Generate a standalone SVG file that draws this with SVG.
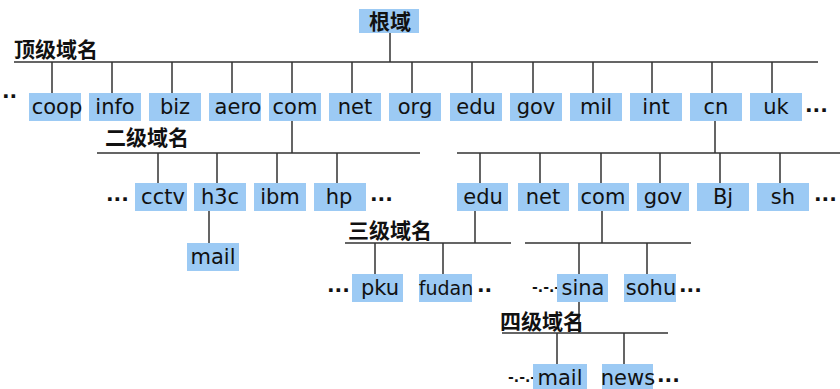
<svg xmlns="http://www.w3.org/2000/svg" width="840" height="389" viewBox="0 0 840 389">
<style>
.b{fill:#9ccaf4}
.t{font-family:"DejaVu Sans","Liberation Sans",sans-serif;font-size:21px;fill:#111;text-anchor:middle}
.c{font-family:"Noto Sans CJK SC","Noto Sans CJK JP",sans-serif;font-size:21px;fill:#111;font-weight:bold}
.d{font-family:"DejaVu Sans",sans-serif;font-size:20px;fill:#111;font-weight:bold}
.l{stroke:#333;stroke-width:1.5;fill:none}
</style>
<rect width="840" height="389" fill="#fff"/>
<g id="connectors" class="l">
<path d="M390 33V62M14 62H818"/>
<path d="M52 62V93M112 62V93M172 62V93M232 62V93M292 62V93M352 62V93M412 62V93M472 62V93M533 62V93M593 62V93M652 62V93M712 62V93M772 62V93"/>
<path d="M292 121V153M97 153H420M158 153V183M217 153V183M277 153V183M337 153V183M209 211V243"/>
<path d="M715 121V153M457 153H840M480 153V183M540 153V183M601 153V183M660 153V183M720 153V183M780 153V183"/>
<path d="M475 211V243M345 243H511M375 243V274M443 243V274"/>
<path d="M602 211V243M525 243H691M579 243V274M647 243V274"/>
<path d="M579 302V333M502 333H668M557 333V364M624 333V364"/>
</g>
<g id="root"><rect class="b" x="359" y="9" width="60" height="24"/><text class="c" x="369" y="29">根域</text></g>
<g id="label-tld"><text class="c" x="14" y="57">顶级域名</text></g>
<g id="label-sld"><text class="c" x="105" y="145">二级域名</text></g>
<g id="label-3ld"><text class="c" x="348" y="238">三级域名</text></g>
<g id="label-4ld"><text class="c" x="500" y="329">四级域名</text></g>
<g id="dots">
<text class="d" x="2" y="103">··</text>
<text class="d" x="805" y="112">...</text>
<text class="d" x="106" y="201">...</text>
<text class="d" x="370" y="201">...</text>
<text class="d" x="814" y="201">...</text>
<text class="d" x="327" y="292">...</text>
<text class="d" x="477" y="292">..</text>
<text class="d" x="532" y="292" style="font-size:14px">-.-.-</text>
<text class="d" x="679" y="292">...</text>
<text class="d" x="508" y="382" style="font-size:14px">-.-.-</text>
<text class="d" x="657" y="382">...</text>
</g>
<g id="n-coop"><rect class="b" x="29" y="93" width="52" height="28"/><text class="t" x="57" y="114">coop</text></g>
<g id="n-info"><rect class="b" x="89" y="93" width="52" height="28"/><text class="t" x="115" y="114">info</text></g>
<g id="n-biz"><rect class="b" x="149" y="93" width="52" height="28"/><text class="t" x="175" y="114">biz</text></g>
<g id="n-aero"><rect class="b" x="209" y="93" width="52" height="28"/><text class="t" x="238" y="114">aero</text></g>
<g id="n-com"><rect class="b" x="269" y="93" width="52" height="28"/><text class="t" x="295" y="114">com</text></g>
<g id="n-net"><rect class="b" x="329" y="93" width="52" height="28"/><text class="t" x="355" y="114">net</text></g>
<g id="n-org"><rect class="b" x="389" y="93" width="52" height="28"/><text class="t" x="415" y="114">org</text></g>
<g id="n-edu"><rect class="b" x="450" y="93" width="52" height="28"/><text class="t" x="476" y="114">edu</text></g>
<g id="n-gov"><rect class="b" x="510" y="93" width="52" height="28"/><text class="t" x="536" y="114">gov</text></g>
<g id="n-mil"><rect class="b" x="570" y="93" width="52" height="28"/><text class="t" x="596" y="114">mil</text></g>
<g id="n-int"><rect class="b" x="630" y="93" width="52" height="28"/><text class="t" x="656" y="114">int</text></g>
<g id="n-cn"><rect class="b" x="690" y="93" width="52" height="28"/><text class="t" x="716" y="114">cn</text></g>
<g id="n-uk"><rect class="b" x="750" y="93" width="52" height="28"/><text class="t" x="776" y="114">uk</text></g>
<g id="n-cctv"><rect class="b" x="135" y="183" width="52" height="28"/><text class="t" x="163" y="204">cctv</text></g>
<g id="n-h3c"><rect class="b" x="194" y="183" width="52" height="28"/><text class="t" x="220" y="204">h3c</text></g>
<g id="n-ibm"><rect class="b" x="254" y="183" width="52" height="28"/><text class="t" x="280" y="204">ibm</text></g>
<g id="n-hp"><rect class="b" x="314" y="183" width="52" height="28"/><text class="t" x="339" y="204">hp</text></g>
<g id="n-h3c-mail"><rect class="b" x="187" y="243" width="52" height="28"/><text class="t" x="213" y="264">mail</text></g>
<g id="n-cn-edu"><rect class="b" x="457" y="183" width="51" height="28"/><text class="t" x="483" y="204">edu</text></g>
<g id="n-cn-net"><rect class="b" x="518" y="183" width="51" height="28"/><text class="t" x="543" y="204">net</text></g>
<g id="n-cn-com"><rect class="b" x="578" y="183" width="51" height="28"/><text class="t" x="603" y="204">com</text></g>
<g id="n-cn-gov"><rect class="b" x="637" y="183" width="52" height="28"/><text class="t" x="663" y="204">gov</text></g>
<g id="n-bj"><rect class="b" x="697" y="183" width="52" height="28"/><text class="t" x="723" y="204">Bj</text></g>
<g id="n-sh"><rect class="b" x="757" y="183" width="52" height="28"/><text class="t" x="783" y="204">sh</text></g>
<g id="n-pku"><rect class="b" x="352" y="274" width="51" height="28"/><text class="t" x="380" y="295">pku</text></g>
<g id="n-fudan"><rect class="b" x="419" y="274" width="53" height="28"/><text class="t" x="446" y="295" style="font-size:19px">fudan</text></g>
<g id="n-sina"><rect class="b" x="557" y="274" width="51" height="28"/><text class="t" x="583" y="295">sina</text></g>
<g id="n-sohu"><rect class="b" x="624" y="274" width="52" height="28"/><text class="t" x="651" y="295">sohu</text></g>
<g id="n-sina-mail"><rect class="b" x="533" y="364" width="54" height="28"/><text class="t" x="560" y="385">mail</text></g>
<g id="n-news"><rect class="b" x="602" y="364" width="51" height="28"/><text class="t" x="628" y="385">news</text></g>
</svg>
